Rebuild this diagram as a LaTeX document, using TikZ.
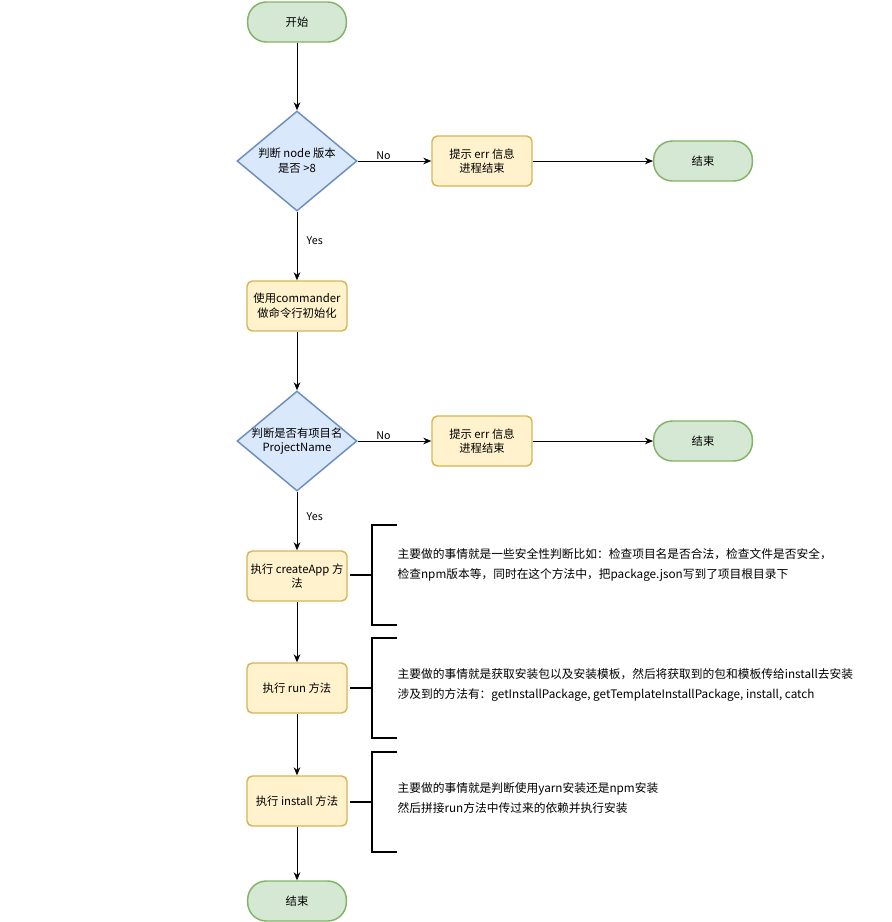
\documentclass[tikz,border=0pt]{standalone}
\usepackage{fontspec}
\setmainfont{Noto Sans CJK SC}
\usetikzlibrary{shapes.geometric,arrows.meta}
\definecolor{gfill}{HTML}{D5E8D4}\definecolor{gline}{HTML}{82B366}
\definecolor{yfill}{HTML}{FFF2CC}\definecolor{yline}{HTML}{D6B656}
\definecolor{bfill}{HTML}{DAE8FC}\definecolor{bline}{HTML}{6C8EBF}
\begin{document}
\begin{tikzpicture}[x=0.75pt,y=-0.75pt,
  every node/.style={font=\fontsize{8.5pt}{11pt}\selectfont,align=center,inner sep=1pt},
  term/.style={draw=gline,fill=gfill,line width=1.1pt,rounded corners=14pt,minimum width=74pt,minimum height=30pt},
  proc/.style={draw=yline,fill=yfill,line width=1.1pt,rounded corners=4pt,minimum width=75pt,minimum height=37.5pt},
  cond/.style={draw=bline,fill=bfill,line width=1.1pt,diamond,minimum width=90pt,minimum height=75pt,inner sep=-12pt},
  arr/.style={-{Stealth[length=6pt,width=5pt]},line width=0.6pt},
  lbl/.style={font=\fontsize{8pt}{10pt}\selectfont},
  note/.style={anchor=west,align=left,font=\fontsize{8.8pt}{15pt}\selectfont}]
\useasboundingbox (0,0) rectangle (892,922);
% main column
\node[term] (start) at (297,22) {开始};
\node[cond] (chkNode) at (297,161) {判断 node 版本\\是否 >8};
\node[proc] (errNode) at (482,161) {提示 err 信息\\进程结束};
\node[term] (endNode) at (703,161) {结束};
\node[proc] (cmd) at (297,306) {使用commander\\做命令行初始化};
\node[cond] (chkName) at (297,441) {判断是否有项目名\\ProjectName};
\node[proc] (errName) at (482,441) {提示 err 信息\\进程结束};
\node[term] (endName) at (703,441) {结束};
\node[proc] (create) at (297,576) {执行 createApp 方\\法};
\node[proc] (run) at (297,688) {执行 run 方法};
\node[proc] (install) at (297,801) {执行 install 方法};
\node[term] (finish) at (297,901) {结束};
% connectors
\draw[arr] (start) -- (chkNode);
\draw[arr] (chkNode) -- node[lbl,above,pos=0.35] {No} (errNode);
\draw[arr] (errNode) -- (endNode);
\draw[arr] (chkNode) -- node[lbl,right,pos=0.42,xshift=6pt] {Yes} (cmd);
\draw[arr] (cmd) -- (chkName);
\draw[arr] (chkName) -- node[lbl,above,pos=0.35] {No} (errName);
\draw[arr] (errName) -- (endName);
\draw[arr] (chkName) -- node[lbl,right,pos=0.42,xshift=6pt] {Yes} (create);
\draw[arr] (create) -- (run);
\draw[arr] (run) -- (install);
\draw[arr] (install) -- (finish);
% brackets and notes
\foreach \y in {575,688,802}
  \draw[line width=1pt] (397,\y-50) -- (372,\y-50) -- (372,\y+50) -- (397,\y+50) (350,\y) -- (372,\y);
\node[note] at (396,565) {主要做的事情就是一些安全性判断比如：检查项目名是否合法，检查文件是否安全，\\检查npm版本等，同时在这个方法中，把package.json写到了项目根目录下};
\node[note] at (396,685) {主要做的事情就是获取安装包以及安装模板，然后将获取到的包和模板传给install去安装\\涉及到的方法有：getInstallPackage, getTemplateInstallPackage, install, catch};
\node[note] at (396,798) {主要做的事情就是判断使用yarn安装还是npm安装\\然后拼接run方法中传过来的依赖并执行安装};
\end{tikzpicture}
\end{document}
